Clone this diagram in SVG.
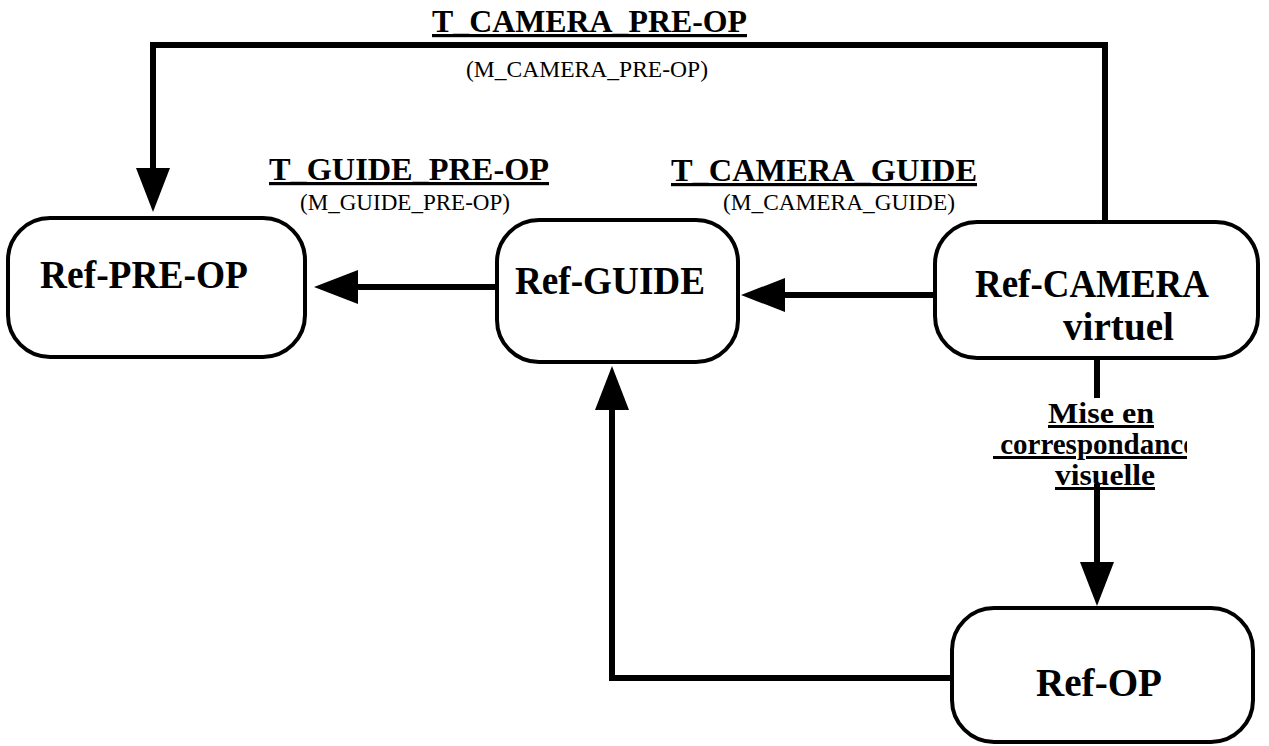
<svg xmlns="http://www.w3.org/2000/svg" width="1269" height="746" viewBox="0 0 1269 746">
<style>
.box{fill:#fff;stroke:#000;stroke-width:4}
.conn{fill:none;stroke:#000;stroke-width:6}
.node{font-family:"Liberation Serif",serif;font-weight:bold;font-size:41px;fill:#000}
.tl{font-family:"Liberation Serif",serif;font-weight:bold;font-size:32px;fill:#000;text-decoration:underline}
.ml{font-family:"Liberation Serif",serif;font-size:23px;fill:#000}
.vl{font-family:"Liberation Serif",serif;font-weight:bold;font-size:30px;fill:#000;text-decoration:underline}
</style>
<defs>
<marker id="ah" markerUnits="userSpaceOnUse" markerWidth="46" markerHeight="34" refX="0" refY="17" orient="auto">
<path d="M0,0 L44,17 L0,34 Z" fill="#000"/>
</marker>
<clipPath id="clipc"><rect x="900" y="425" width="287" height="45"/></clipPath>
</defs>
<g id="connectors">
<path class="conn" d="M1105,222 V45 H153 V168" marker-end="url(#ah)"/>
<path class="conn" d="M497,287 H358" marker-end="url(#ah)"/>
<path class="conn" d="M935,295 H785" marker-end="url(#ah)"/>
<path class="conn" d="M1097,358 V398"/>
<path class="conn" d="M1097,484 V562" marker-end="url(#ah)"/>
<path class="conn" d="M952,678 H612 V410" marker-end="url(#ah)"/>
</g>
<g id="labels">
<text class="tl" x="432" y="32" textLength="315" lengthAdjust="spacingAndGlyphs">T_CAMERA_PRE-OP</text>
<text class="ml" x="466" y="77" textLength="242" lengthAdjust="spacingAndGlyphs">(M_CAMERA_PRE-OP)</text>
<text class="tl" x="269" y="180" textLength="280" lengthAdjust="spacingAndGlyphs">T_GUIDE_PRE-OP</text>
<text class="ml" x="300" y="210" textLength="210" lengthAdjust="spacingAndGlyphs">(M_GUIDE_PRE-OP)</text>
<text class="tl" x="671" y="181" textLength="306" lengthAdjust="spacingAndGlyphs">T_CAMERA_GUIDE</text>
<text class="ml" x="723" y="210" textLength="232" lengthAdjust="spacingAndGlyphs">(M_CAMERA_GUIDE)</text>
<text class="vl" x="1048" y="423" textLength="106" lengthAdjust="spacingAndGlyphs">Mise en</text>
<g clip-path="url(#clipc)">
<text class="vl" x="993" y="454" textLength="203" lengthAdjust="spacingAndGlyphs">&#160;correspondance</text>
</g>
<text class="vl" x="1055" y="485" textLength="100" lengthAdjust="spacingAndGlyphs">visuelle</text>
</g>
<g id="ref-pre-op">
<rect class="box" x="8" y="218" width="297" height="139" rx="42"/>
<text class="node" x="40" y="288" textLength="208" lengthAdjust="spacingAndGlyphs">Ref-PRE-OP</text>
</g>
<g id="ref-guide">
<rect class="box" x="497" y="220" width="241" height="142" rx="42"/>
<text class="node" x="515" y="294" textLength="190" lengthAdjust="spacingAndGlyphs">Ref-GUIDE</text>
</g>
<g id="ref-camera">
<rect class="box" x="935" y="222" width="323" height="136" rx="42"/>
<text class="node" x="975" y="297" textLength="234" lengthAdjust="spacingAndGlyphs">Ref-CAMERA</text>
<text class="node" x="1063" y="340" textLength="111" lengthAdjust="spacingAndGlyphs">virtuel</text>
</g>
<g id="ref-op">
<rect class="box" x="952" y="608" width="301" height="134" rx="42"/>
<text class="node" x="1036" y="696" textLength="126" lengthAdjust="spacingAndGlyphs">Ref-OP</text>
</g>
</svg>
